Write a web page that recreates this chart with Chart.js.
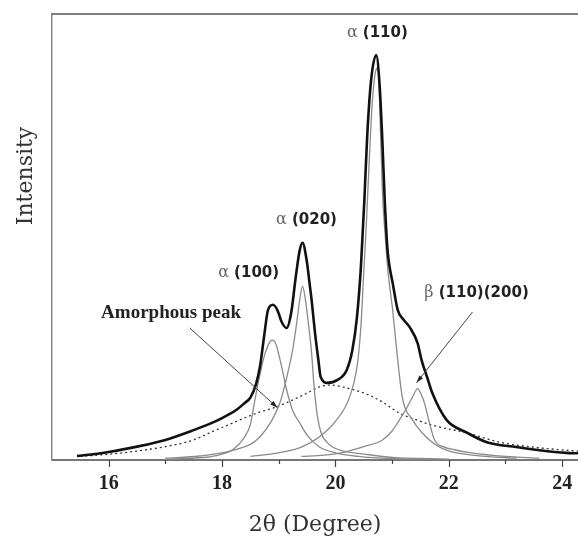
<!DOCTYPE html>
<html>
<head>
<meta charset="utf-8">
<script src="https://cdn.jsdelivr.net/npm/chart.js@4.4.1/dist/chart.umd.min.js"></script>
<style>
  html, body { margin: 0; padding: 0; background: #fff; }
  canvas { display: block; }
</style>
</head>
<body>
<canvas id="xrd" width="578" height="538" style="width:578px;height:538px"></canvas>
<script>
// measured pattern (thick line)
const totalX = [15.44, 15.8, 16.0, 16.5, 17.0, 17.5, 17.8, 18.0, 18.25, 18.4, 18.5, 18.6, 18.67, 18.75, 18.81, 18.9, 18.98, 19.05, 19.14, 19.22, 19.3, 19.37, 19.42, 19.49, 19.55, 19.58, 19.64, 19.7, 19.74, 19.86, 20.03, 20.2, 20.3, 20.38, 20.45, 20.51, 20.56, 20.63, 20.72, 20.78, 20.83, 20.87, 20.92, 20.96, 21.01, 21.1, 21.2, 21.31, 21.45, 21.52, 21.62, 21.71, 21.96, 22.31, 22.67, 23.19, 23.6, 24.07, 24.28];
const totalY = [0.9, 1.4, 1.8, 3.0, 4.5, 6.7, 8.2, 9.4, 11.2, 12.8, 14.0, 17.0, 21.0, 28.5, 33.6, 34.8, 33.5, 31.0, 29.6, 33.0, 41.0, 47.0, 48.7, 45.0, 39.0, 35.9, 28.5, 22.4, 18.6, 17.3, 17.9, 20.2, 24.7, 32.0, 43.3, 58.0, 72.4, 85.2, 90.8, 84.0, 71.0, 58.3, 47.0, 43.0, 39.7, 33.6, 31.5, 29.8, 26.2, 22.4, 18.5, 15.0, 9.0, 6.2, 4.0, 2.9, 2.2, 1.6, 1.5];

// fitted peaks (thin lines)
const a100X = [17.0, 17.6, 17.9, 18.2, 18.4, 18.5, 18.57, 18.65, 18.75, 18.83, 18.88, 18.95, 19.05, 19.14, 19.25, 19.37, 19.5, 19.72, 20.0, 20.4, 21.0, 22.0];
const a100Y = [0.2, 0.5, 1.0, 2.4, 5.2, 8.0, 12.8, 18.0, 23.5, 26.2, 26.9, 26.0, 21.0, 15.7, 11.0, 8.3, 5.6, 2.9, 1.6, 0.8, 0.3, 0.1];

const a020X = [17.0, 17.6, 18.2, 18.67, 19.02, 19.15, 19.25, 19.32, 19.37, 19.42, 19.47, 19.52, 19.58, 19.62, 19.68, 19.75, 19.85, 19.95, 20.2, 20.4, 21.0, 22.0];
const a020Y = [0.4, 0.9, 2.2, 5.2, 12.8, 19.0, 25.0, 31.0, 35.9, 39.0, 36.0, 31.0, 24.0, 17.0, 10.0, 6.0, 4.0, 2.9, 1.8, 1.5, 0.6, 0.2];

const a110X = [18.5, 19.0, 19.4, 19.72, 20.02, 20.25, 20.39, 20.45, 20.5, 20.55, 20.6, 20.65, 20.7, 20.75, 20.78, 20.83, 20.88, 20.92, 21.01, 21.1, 21.18, 21.36, 21.66, 21.96, 22.5, 23.2];
const a110Y = [0.8, 1.6, 2.9, 5.2, 9.0, 14.1, 21.7, 30.0, 42.0, 54.0, 68.0, 80.0, 86.5, 88.0, 80.0, 60.0, 50.0, 43.3, 33.6, 22.4, 14.1, 9.0, 4.5, 2.2, 1.0, 0.4];

const betaX = [19.4, 19.8, 20.1, 20.5, 20.83, 21.0, 21.13, 21.25, 21.36, 21.45, 21.52, 21.57, 21.66, 21.75, 21.9, 22.1, 22.4, 23.0, 23.6];
const betaY = [0.8, 1.1, 1.6, 3.0, 4.5, 6.5, 9.0, 11.5, 14.1, 16.0, 14.5, 12.8, 8.3, 4.5, 3.0, 2.3, 1.6, 0.8, 0.4];

// amorphous halo (dotted)
const amorphX = [15.5, 16.0, 16.5, 17.0, 17.5, 17.78, 18.19, 18.61, 18.96, 19.25, 19.5, 19.72, 19.9, 20.1, 20.25, 20.55, 20.83, 21.13, 21.43, 21.71, 22.31, 22.9, 23.48, 24.07, 24.28];
const amorphY = [0.8, 1.3, 2.0, 3.0, 4.5, 6.1, 8.3, 10.5, 11.9, 13.5, 15.0, 16.4, 16.8, 16.5, 16.0, 14.8, 13.0, 10.5, 9.0, 7.8, 6.1, 4.0, 2.9, 2.2, 2.0];

const xTicks = [16, 18, 20, 22, 24];

const pts = (xs, ys) => xs.map((v, i) => ({ x: v, y: ys[i] }));

const thin = { borderColor: "#8a8a8a", borderWidth: 1.3 };

const annotate = {
  id: "annotate",
  afterDraw(chart) {
    const { ctx, chartArea: a, scales: { x, y } } = chart;
    ctx.save();

    // top frame line
    ctx.strokeStyle = "#555";
    ctx.lineWidth = 1.5;
    ctx.beginPath();
    ctx.moveTo(a.left, a.top);
    ctx.lineTo(a.right, a.top);
    ctx.stroke();

    // tick marks, long on labelled ones
    ctx.strokeStyle = "#444";
    ctx.lineWidth = 1.2;
    for (let v = 16; v <= 24; v++) {
      const px = Math.round(x.getPixelForValue(v)) + 0.5;
      const len = xTicks.includes(v) ? 7 : 4;
      ctx.beginPath();
      ctx.moveTo(px, a.bottom);
      ctx.lineTo(px, a.bottom + len);
      ctx.stroke();
    }

    // peak tags: greek letter light, indices bold
    const tag = (greek, rest, xv, yv) => {
      const cx = x.getPixelForValue(xv), cy = y.getPixelForValue(yv);
      ctx.textBaseline = "middle";
      ctx.textAlign = "left";
      ctx.font = "16px 'DejaVu Serif'";
      const w1 = ctx.measureText(greek + " ").width;
      ctx.font = "bold 15px 'DejaVu Sans'";
      const w2 = ctx.measureText(rest).width;
      let sx = cx - (w1 + w2) / 2;
      ctx.font = "16px 'DejaVu Serif'";
      ctx.fillStyle = "#666";
      ctx.fillText(greek, sx, cy);
      ctx.font = "bold 15px 'DejaVu Sans'";
      ctx.fillStyle = "#222";
      ctx.fillText(rest, sx + w1, cy);
    };
    tag("α", "(110)", 20.74, 95.7);
    tag("α", "(020)", 19.49, 53.8);
    tag("α", "(100)", 18.47, 41.9);
    tag("β", "(110)(200)", 22.49, 37.4);

    ctx.font = "bold 19px 'Liberation Serif'";
    ctx.fillStyle = "#222";
    ctx.textAlign = "center";
    ctx.fillText("Amorphous peak", x.getPixelForValue(17.1), y.getPixelForValue(33));

    // pointer lines
    const arrow = (x1, y1, x2, y2) => {
      const p1x = x.getPixelForValue(x1), p1y = y.getPixelForValue(y1);
      const p2x = x.getPixelForValue(x2), p2y = y.getPixelForValue(y2);
      const ang = Math.atan2(p2y - p1y, p2x - p1x);
      ctx.strokeStyle = "#444";
      ctx.lineWidth = 1;
      ctx.beginPath();
      ctx.moveTo(p1x, p1y);
      ctx.lineTo(p2x, p2y);
      ctx.stroke();
      ctx.fillStyle = "#222";
      ctx.beginPath();
      ctx.moveTo(p2x, p2y);
      ctx.lineTo(p2x - 8 * Math.cos(ang - 0.3), p2y - 8 * Math.sin(ang - 0.3));
      ctx.lineTo(p2x - 8 * Math.cos(ang + 0.3), p2y - 8 * Math.sin(ang + 0.3));
      ctx.closePath();
      ctx.fill();
    };
    arrow(17.43, 29.6, 18.98, 11.7);
    arrow(22.42, 33.2, 21.43, 17.3);

    // y title, sits above centre like the original
    ctx.translate(26, 176);
    ctx.rotate(-Math.PI / 2);
    ctx.font = "22px 'DejaVu Serif'";
    ctx.fillStyle = "#333";
    ctx.textAlign = "center";
    ctx.textBaseline = "middle";
    ctx.fillText("Intensity", 0, 0);
    ctx.restore();
  }
};

new Chart(document.getElementById("xrd"), {
  type: "line",
  data: {
    datasets: [
      { data: pts(totalX, totalY), borderColor: "#111", borderWidth: 2.6 },
      { data: pts(a110X, a110Y), ...thin },
      { data: pts(a020X, a020Y), ...thin },
      { data: pts(a100X, a100Y), ...thin },
      { data: pts(betaX, betaY), ...thin },
      { data: pts(amorphX, amorphY), borderColor: "#333", borderWidth: 1.3, borderDash: [2, 3] }
    ]
  },
  options: {
    responsive: false,
    animation: false,
    devicePixelRatio: 1,
    layout: { padding: { top: 14, right: 0, left: 0, bottom: 0 } },
    elements: {
      point: { radius: 0 },
      line: { cubicInterpolationMode: "monotone", fill: false }
    },
    plugins: { legend: { display: false }, tooltip: { enabled: false } },
    scales: {
      x: {
        type: "linear",
        min: 15,
        max: 24.28,
        afterFit: s => { s.height = 78; s.paddingLeft = 0; s.paddingRight = 0; },
        border: { display: true, color: "#777", width: 2 },
        grid: { display: true, drawOnChartArea: false, drawTicks: false },
        ticks: {
          stepSize: 1,
          includeBounds: false,
          autoSkip: false,
          maxRotation: 0,
          padding: 12,
          color: "#222",
          font: { family: "'Liberation Serif'", size: 20, weight: "bold" },
          callback: v => xTicks.includes(v) ? String(v) : ""
        },
        title: {
          display: true,
          text: "2θ (Degree)",
          color: "#333",
          font: { family: "'DejaVu Serif'", size: 22 },
          padding: { top: 0, bottom: 0 }
        }
      },
      y: {
        min: 0,
        max: 100,
        afterFit: s => { s.width = 52; },
        border: { display: true, color: "#888", width: 1.5 },
        grid: { display: false },
        ticks: { display: false }
      }
    }
  },
  plugins: [annotate]
});
</script>
</body>
</html>
